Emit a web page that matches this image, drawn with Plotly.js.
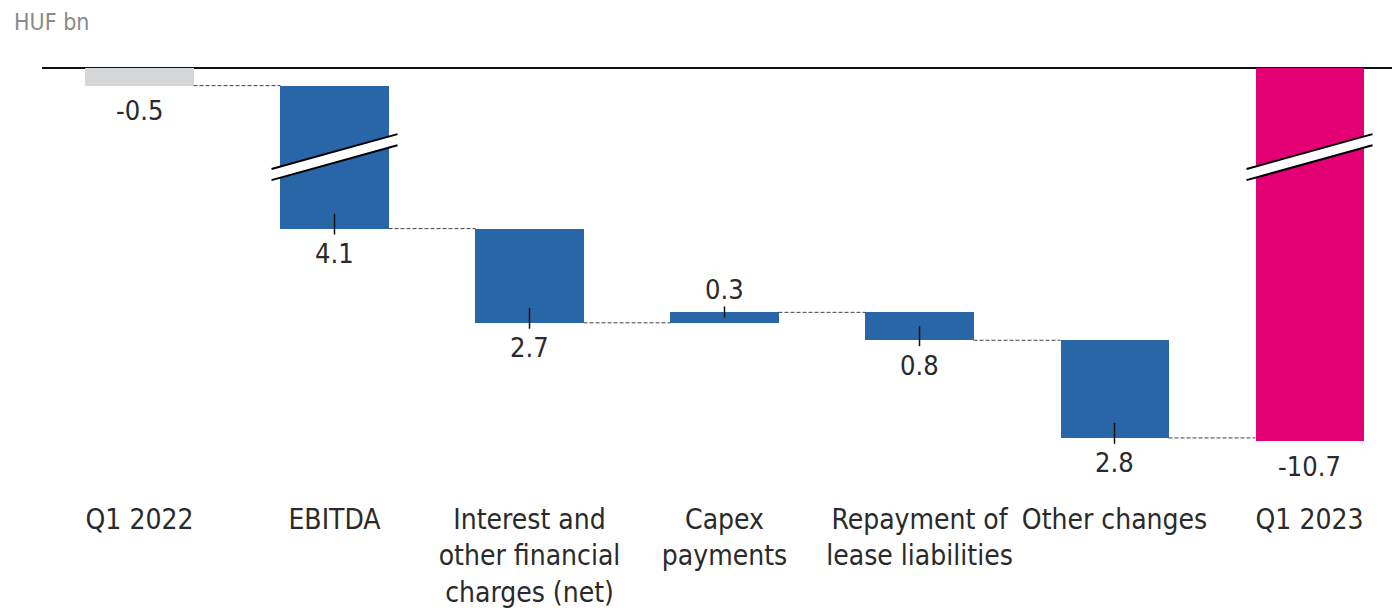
<!DOCTYPE html>
<html>
<head>
<meta charset="utf-8">
<script src="https://cdn.plot.ly/plotly-3.0.1.min.js"></script>
<style>html,body{margin:0;padding:0;background:#fff;}#chart{width:1392px;height:612px;}</style>
</head>
<body>
<div id="chart"></div>
<script>
// ---- data ----
const categories = ['Q1 2022', 'EBITDA', 'Interest and<br>other financial<br>charges (net)', 'Capex<br>payments', 'Repayment of<br>lease liabilities', 'Other changes', 'Q1 2023'];
const values = [-0.5, -4.1, -2.7, 0.3, -0.8, -2.8, -10.7];
const measures = ['absolute', 'relative', 'relative', 'relative', 'relative', 'relative', 'total'];
const valueLabels = ['-0.5', '4.1', '2.7', '0.3', '0.8', '2.8', '-10.7'];
const brokenBars = [1, 6];

// ---- styling ----
const FONT = 'Liberation Sans Narrow, DejaVu Sans Condensed, Roboto, sans-serif';
const colStart = '#d6d7d9', colDelta = '#2966a8', colTotal = '#e20074';
const HW = 0.277; // half bar width in category units

// ---- build bars ----
const xs = categories.map((_, i) => i);
const bases = [], deltas = [], ends = [], colors = [];
let cum = 0;
values.forEach((v, i) => {
  if (measures[i] === 'relative') {
    bases.push(cum); deltas.push(v); cum += v;
    colors.push(colDelta);
  } else {
    bases.push(0); deltas.push(v); cum = v;
    colors.push(measures[i] === 'total' ? colTotal : colStart);
  }
  ends.push(bases[i] + deltas[i]);
});

const bars = {
  type: 'bar', x: xs, y: deltas, base: bases, width: HW * 2,
  marker: {color: colors, line: {width: 0}},
  hoverinfo: 'skip', showlegend: false
};

// connectors
const cx = [], cy = [];
for (let i = 0; i < xs.length - 1; i++) {
  cx.push(i + HW, i + 1 - HW, null);
  cy.push(ends[i], ends[i], null);
}
const connectors = {
  type: 'scatter', mode: 'lines', x: cx, y: cy,
  line: {color: '#444', width: 1, dash: '4px,2px'},
  hoverinfo: 'skip', showlegend: false
};

// small label tick marks on relative bars
const tx = [], ty = [];
values.forEach((v, i) => {
  if (measures[i] !== 'relative') return;
  const dir = Math.sign(v);
  const inside = Math.min(0.43, Math.abs(v) / 2);
  tx.push(i, i, null);
  ty.push(ends[i] - dir * inside, ends[i] + dir * 0.17, null);
});
const ticksTrace = {
  type: 'scatter', mode: 'lines', x: tx, y: ty,
  line: {color: '#111', width: 1.5},
  hoverinfo: 'skip', showlegend: false
};

// value annotations
const annotations = values.map((v, i) => {
  const up = measures[i] === 'relative' && v > 0;
  return {
    x: i, y: ends[i], xref: 'x', yref: 'y', text: valueLabels[i],
    showarrow: false, yanchor: 'middle', yshift: up ? 23 : -25,
    font: {family: FONT, size: 27, color: '#2a2a2a'}
  };
});

// axis break marks
const shapes = [];
const breakLevel = bases[1] + deltas[1] / 2;
const bdx = 0.323, bdy = 0.5, gap = 0.16;
brokenBars.forEach(i => {
  const x0 = i - bdx, x1 = i + bdx;
  const u0 = breakLevel + gap - bdy, u1 = breakLevel + gap + bdy;
  const l0 = breakLevel - gap - bdy, l1 = breakLevel - gap + bdy;
  shapes.push({type: 'path', xref: 'x', yref: 'y',
    path: `M ${x0},${u0} L ${x1},${u1} L ${x1},${l1} L ${x0},${l0} Z`,
    fillcolor: '#fff', line: {width: 0}});
  shapes.push({type: 'line', xref: 'x', yref: 'y', x0: x0, y0: u0, x1: x1, y1: u1, line: {color: '#000', width: 2}});
  shapes.push({type: 'line', xref: 'x', yref: 'y', x0: x0, y0: l0, x1: x1, y1: l1, line: {color: '#000', width: 2}});
});

const layout = {
  width: 1392, height: 612,
  margin: {l: 42, r: 0, t: 64, b: 112},
  paper_bgcolor: '#fff', plot_bgcolor: '#fff',
  font: {family: FONT, color: '#2a2a2a'},
  title: {text: 'HUF bn', xref: 'container', yref: 'container', x: 14 / 1392, xanchor: 'left',
          y: 1 - 22 / 612, yanchor: 'middle', font: {family: FONT, size: 23, color: '#8a8a8a'}},
  xaxis: {range: [-0.5, 6.423], tickvals: xs, ticktext: categories, showgrid: false, zeroline: false,
          showline: false, ticks: '', tickfont: {family: FONT, size: 28, color: '#2a2a2a'}, fixedrange: true},
  yaxis: {range: [-12.38, 0.12], showgrid: false, showticklabels: false, ticks: '', showline: false,
          zeroline: true, zerolinecolor: '#111', zerolinewidth: 2, fixedrange: true},
  bargap: 0, showlegend: false,
  annotations: annotations, shapes: shapes
};

Plotly.newPlot('chart', [bars, connectors, ticksTrace], layout, {displayModeBar: false, staticPlot: true});
</script>
</body>
</html>
